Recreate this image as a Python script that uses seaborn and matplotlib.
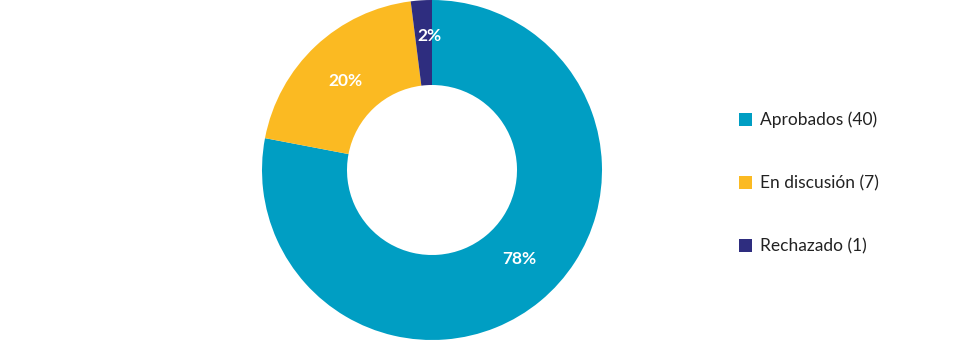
import matplotlib
matplotlib.use("Agg")
import matplotlib.pyplot as plt
import seaborn as sns
import numpy as np
from matplotlib.patches import Patch

sns.set_theme(style="white")
plt.rcParams['font.family'] = ['Lato', 'DejaVu Sans']

categories = ["Aprobados", "En discusión", "Rechazado"]
counts = [40, 7, 1]
percents = [78, 20, 2]
colors = ["#009EC3", "#FBBA22", "#2E2D7F"]
label_radius = [0.735, 0.73, 0.79]
label_angle_shift = [5.0, 1.2, -2.7]

fig = plt.figure(figsize=(9.56, 3.4), dpi=100)
ax = fig.add_axes([(432 - 170) / 956, 0, 340 / 956, 1])
wedges, _ = ax.pie(percents, colors=colors, startangle=90, counterclock=False,
                   radius=1.0, wedgeprops=dict(width=0.5, edgecolor="none"))
for w, p, r, s in zip(wedges, percents, label_radius, label_angle_shift):
    ang = np.deg2rad((w.theta1 + w.theta2) / 2 + s)
    ax.text(r * np.cos(ang), r * np.sin(ang), f"{p}%", ha="center", va="center",
            color="white", fontsize=12.5, fontweight="bold")
ax.set_xlim(-1, 1)
ax.set_ylim(-1, 1)
ax.set_aspect("equal")
ax.axis("off")

handles = [Patch(facecolor=c, edgecolor="none") for c in colors]
labels = [f"{c} ({n})" for c, n in zip(categories, counts)]
fig.legend(handles, labels, loc="center left", bbox_to_anchor=(739 / 956, 1 - 183 / 340),
           frameon=False, fontsize=12.5, labelspacing=2.7, handlelength=0.75,
           handleheight=0.75, handletextpad=0.45, borderpad=0, borderaxespad=0,
           labelcolor="#222222")

fig.savefig("out.png", dpi=100)
